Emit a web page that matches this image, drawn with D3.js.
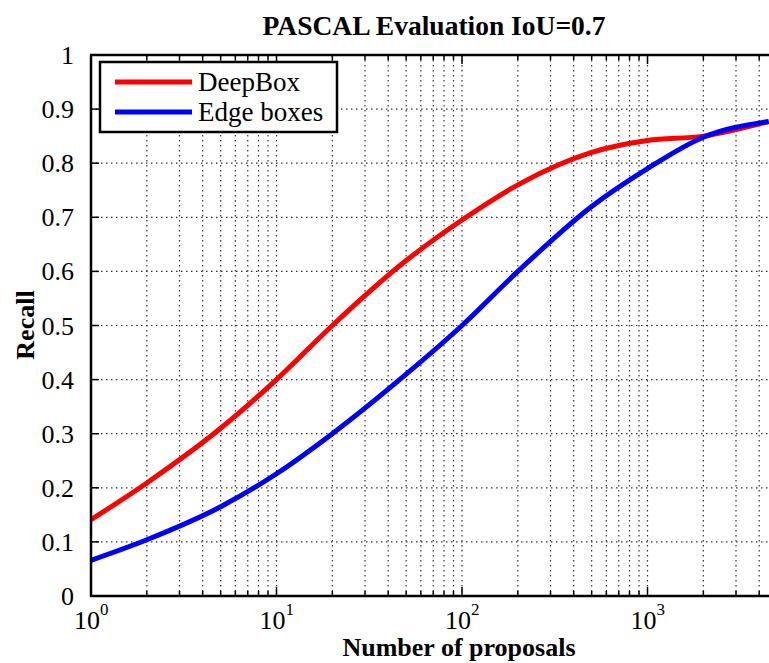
<!DOCTYPE html>
<html><head><meta charset="utf-8">
<script src="https://cdn.jsdelivr.net/npm/d3@7"></script>
<style>body{margin:0;background:#fff}svg{display:block}text{font-family:"Liberation Serif","Times New Roman",serif;fill:#000}</style>
</head><body><svg id="c" width="769" height="663"></svg>
<script>
const proposals = [1, 2, 5, 10, 20, 50, 100, 200, 500, 1000, 2000, 4500];
const deepBox   = [0.141, 0.209, 0.31, 0.40, 0.50, 0.62, 0.695, 0.76, 0.82, 0.842, 0.85, 0.877];
const edgeBoxes = [0.066, 0.104, 0.165, 0.226, 0.30, 0.41, 0.50, 0.60, 0.72, 0.79, 0.848, 0.877];
const seriesNames = ["DeepBox", "Edge boxes"];
const seriesColors = ["#ff0000", "#0000ff"];
const yTicks = [0, 0.1, 0.2, 0.3, 0.4, 0.5, 0.6, 0.7, 0.8, 0.9, 1];
const yTickLabels = ["0", "0.1", "0.2", "0.3", "0.4", "0.5", "0.6", "0.7", "0.8", "0.9", "1"];
const xMajor = [1, 10, 100, 1000];
const xMajorExp = ["0", "1", "2", "3"];
const title = "PASCAL Evaluation IoU=0.7";
const xTitle = "Number of proposals";
const yTitle = "Recall";

const L = 91, T = 55, B = 596, R = 769, DEC = 185.5;
const svg = d3.select("#c");
const x = d3.scaleLog().domain([1, 1e4]).range([L, L + 4 * DEC]);
const y = d3.scaleLinear().domain([0, 1]).range([B, T]);

svg.append("clipPath").attr("id", "pc").append("rect").attr("x", L).attr("y", T).attr("width", R - L).attr("height", B - T);

const minor = [];
for (let d = 0; d < 4; d++) for (let k = 1; k <= 9; k++) { const v = k * Math.pow(10, d); if (x(v) <= R) minor.push(v); }

const g = svg.append("g");
const grid = g.append("g").attr("clip-path", "url(#pc)").attr("stroke", "#000").attr("stroke-width", 1.2).attr("stroke-dasharray", "1.5,3.5").attr("opacity", 0.8);
grid.selectAll(".vg").data(minor.filter(v => v > 1)).enter().append("line")
  .attr("x1", d => x(d)).attr("x2", d => x(d)).attr("y1", T).attr("y2", B);
grid.selectAll(".hg").data(yTicks.filter(v => v > 0 && v < 1)).enter().append("line")
  .attr("x1", L).attr("x2", R).attr("y1", d => y(d)).attr("y2", d => y(d));

const line = d3.line().x((d, i) => x(proposals[i])).y(d => y(d)).curve(d3.curveMonotoneX);
[deepBox, edgeBoxes].forEach((s, i) => {
  g.append("path").attr("clip-path", "url(#pc)").datum(s).attr("d", line)
    .attr("fill", "none").attr("stroke", seriesColors[i]).attr("stroke-width", 5).attr("stroke-linejoin", "round");
});

const ax = g.append("g").attr("stroke", "#000");
ax.append("line").attr("x1", L).attr("x2", L).attr("y1", T).attr("y2", B).attr("stroke-width", 2.5);
ax.append("line").attr("x1", L - 1).attr("x2", R).attr("y1", B).attr("y2", B).attr("stroke-width", 2.5);
ax.append("line").attr("x1", L - 1).attr("x2", R).attr("y1", T).attr("y2", T).attr("stroke-width", 2.5);
ax.selectAll(".yt").data(yTicks).enter().append("line").attr("stroke-width", 1.5)
  .attr("x1", L).attr("x2", L + 8).attr("y1", d => y(d)).attr("y2", d => y(d));
ax.selectAll(".xtb").data(minor).enter().append("line").attr("stroke-width", 1.5)
  .attr("x1", d => x(d)).attr("x2", d => x(d)).attr("y1", B).attr("y2", d => B - (xMajor.includes(d) ? 9 : 5));
ax.selectAll(".xtt").data(minor).enter().append("line").attr("stroke-width", 1.5)
  .attr("x1", d => x(d)).attr("x2", d => x(d)).attr("y1", T).attr("y2", d => T + (xMajor.includes(d) ? 9 : 5));

function txt(parent, s, px, py, opts = {}) {
  return parent.append("text").attr("transform", `translate(${px},${py})${opts.rot ? " rotate(-90)" : ""}`)
    .attr("font-size", opts.fs || 26).attr("font-weight", opts.bold ? "bold" : "normal")
    .attr("text-anchor", opts.anchor || "start").text(s);
}

yTicks.forEach((v, i) => txt(g, yTickLabels[i], 74, y(v) + 9, { anchor: "end", fs: 26 }));
xMajor.forEach((v, i) => {
  const t = g.append("text").attr("transform", `translate(${x(v) - 17},629)`).attr("font-size", 26);
  t.append("tspan").text("10");
  t.append("tspan").attr("font-size", 17).attr("dy", -14).text(xMajorExp[i]);
});
txt(g, title, 434, 35, { anchor: "middle", bold: true, fs: 27.5 });
txt(g, xTitle, 459, 656, { anchor: "middle", bold: true, fs: 26 });
txt(g, yTitle, 34, 325, { anchor: "middle", bold: true, rot: true, fs: 26 });

const lg = g.append("g");
lg.append("rect").attr("x", 100).attr("y", 62).attr("width", 237).attr("height", 70)
  .attr("fill", "#fff").attr("stroke", "#000").attr("stroke-width", 2.5);
seriesNames.forEach((n, i) => {
  const yy = 82 + i * 30;
  lg.append("line").attr("x1", 115).attr("x2", 192).attr("y1", yy).attr("y2", yy)
    .attr("stroke", seriesColors[i]).attr("stroke-width", 5);
  txt(lg, n, 198, yy + 9, { fs: 27 });
});
</script></body></html>
